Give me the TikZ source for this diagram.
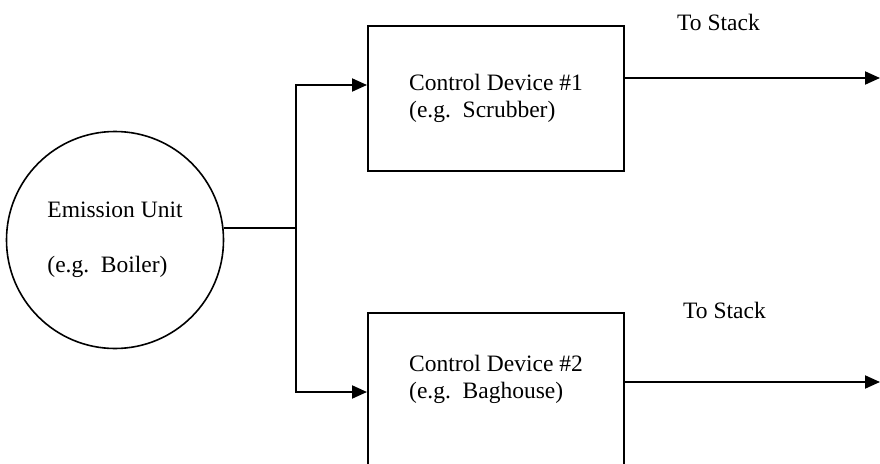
\documentclass[tikz,border=0pt]{standalone}
\usepackage{fontspec}
\setmainfont{Liberation Serif}
\usetikzlibrary{shapes,arrows.meta,positioning}
\tikzstyle{unode} = [circle, draw, line width=1.6pt, minimum size=217pt, inner sep=0pt, align=left, font=\fontsize{23.5}{27.5}\selectfont]
\tikzstyle{dnode} = [rectangle, draw, line width=2pt, minimum width=256pt, align=left, font=\fontsize{23.5}{27.5}\selectfont]
\tikzstyle{tnode} = [inner sep=0pt, font=\fontsize{23.5}{27.5}\selectfont]
\tikzstyle{line} = [draw, line width=2pt]
\tikzstyle{arrow} = [draw, line width=2pt, -{Triangle[length=15pt, width=13pt]}]

\begin{document}
\begin{tikzpicture}[x=1pt, y=-1pt]
			\useasboundingbox (0,0) rectangle (880,463);
			\node [unode] (unit) at (115, 240) {Emission Unit\\[27.5pt](e.g.\ \ Boiler)};
			\node [dnode, minimum height=145pt] (dev1) at (496, 98.5) {Control Device \#1\\(e.g.\ \ Scrubber)};
			\node [dnode, minimum height=200pt, text depth=72.7pt] (dev2) at (496, 413) {Control Device \#2\\(e.g.\ \ Baghouse)};
			\node [tnode] (stack1) at (718.5, 22) {To Stack};
			\node [tnode] (stack2) at (724.5, 310) {To Stack};
			\coordinate (split) at (296, 228);
			\coordinate (out1) at (880, 78);
			\coordinate (out2) at (880, 382);
			
			\path [line] (unit.east |- split) -- (split);
			\path [arrow] (split) |- ([yshift=13.5pt]dev1.west);
			\path [arrow] (split) |- ([yshift=21pt]dev2.west);
			\path [arrow] (dev1.east |- out1) -- (out1);
			\path [arrow] (dev2.east |- out2) -- (out2);
		\end{tikzpicture}
\end{document}
